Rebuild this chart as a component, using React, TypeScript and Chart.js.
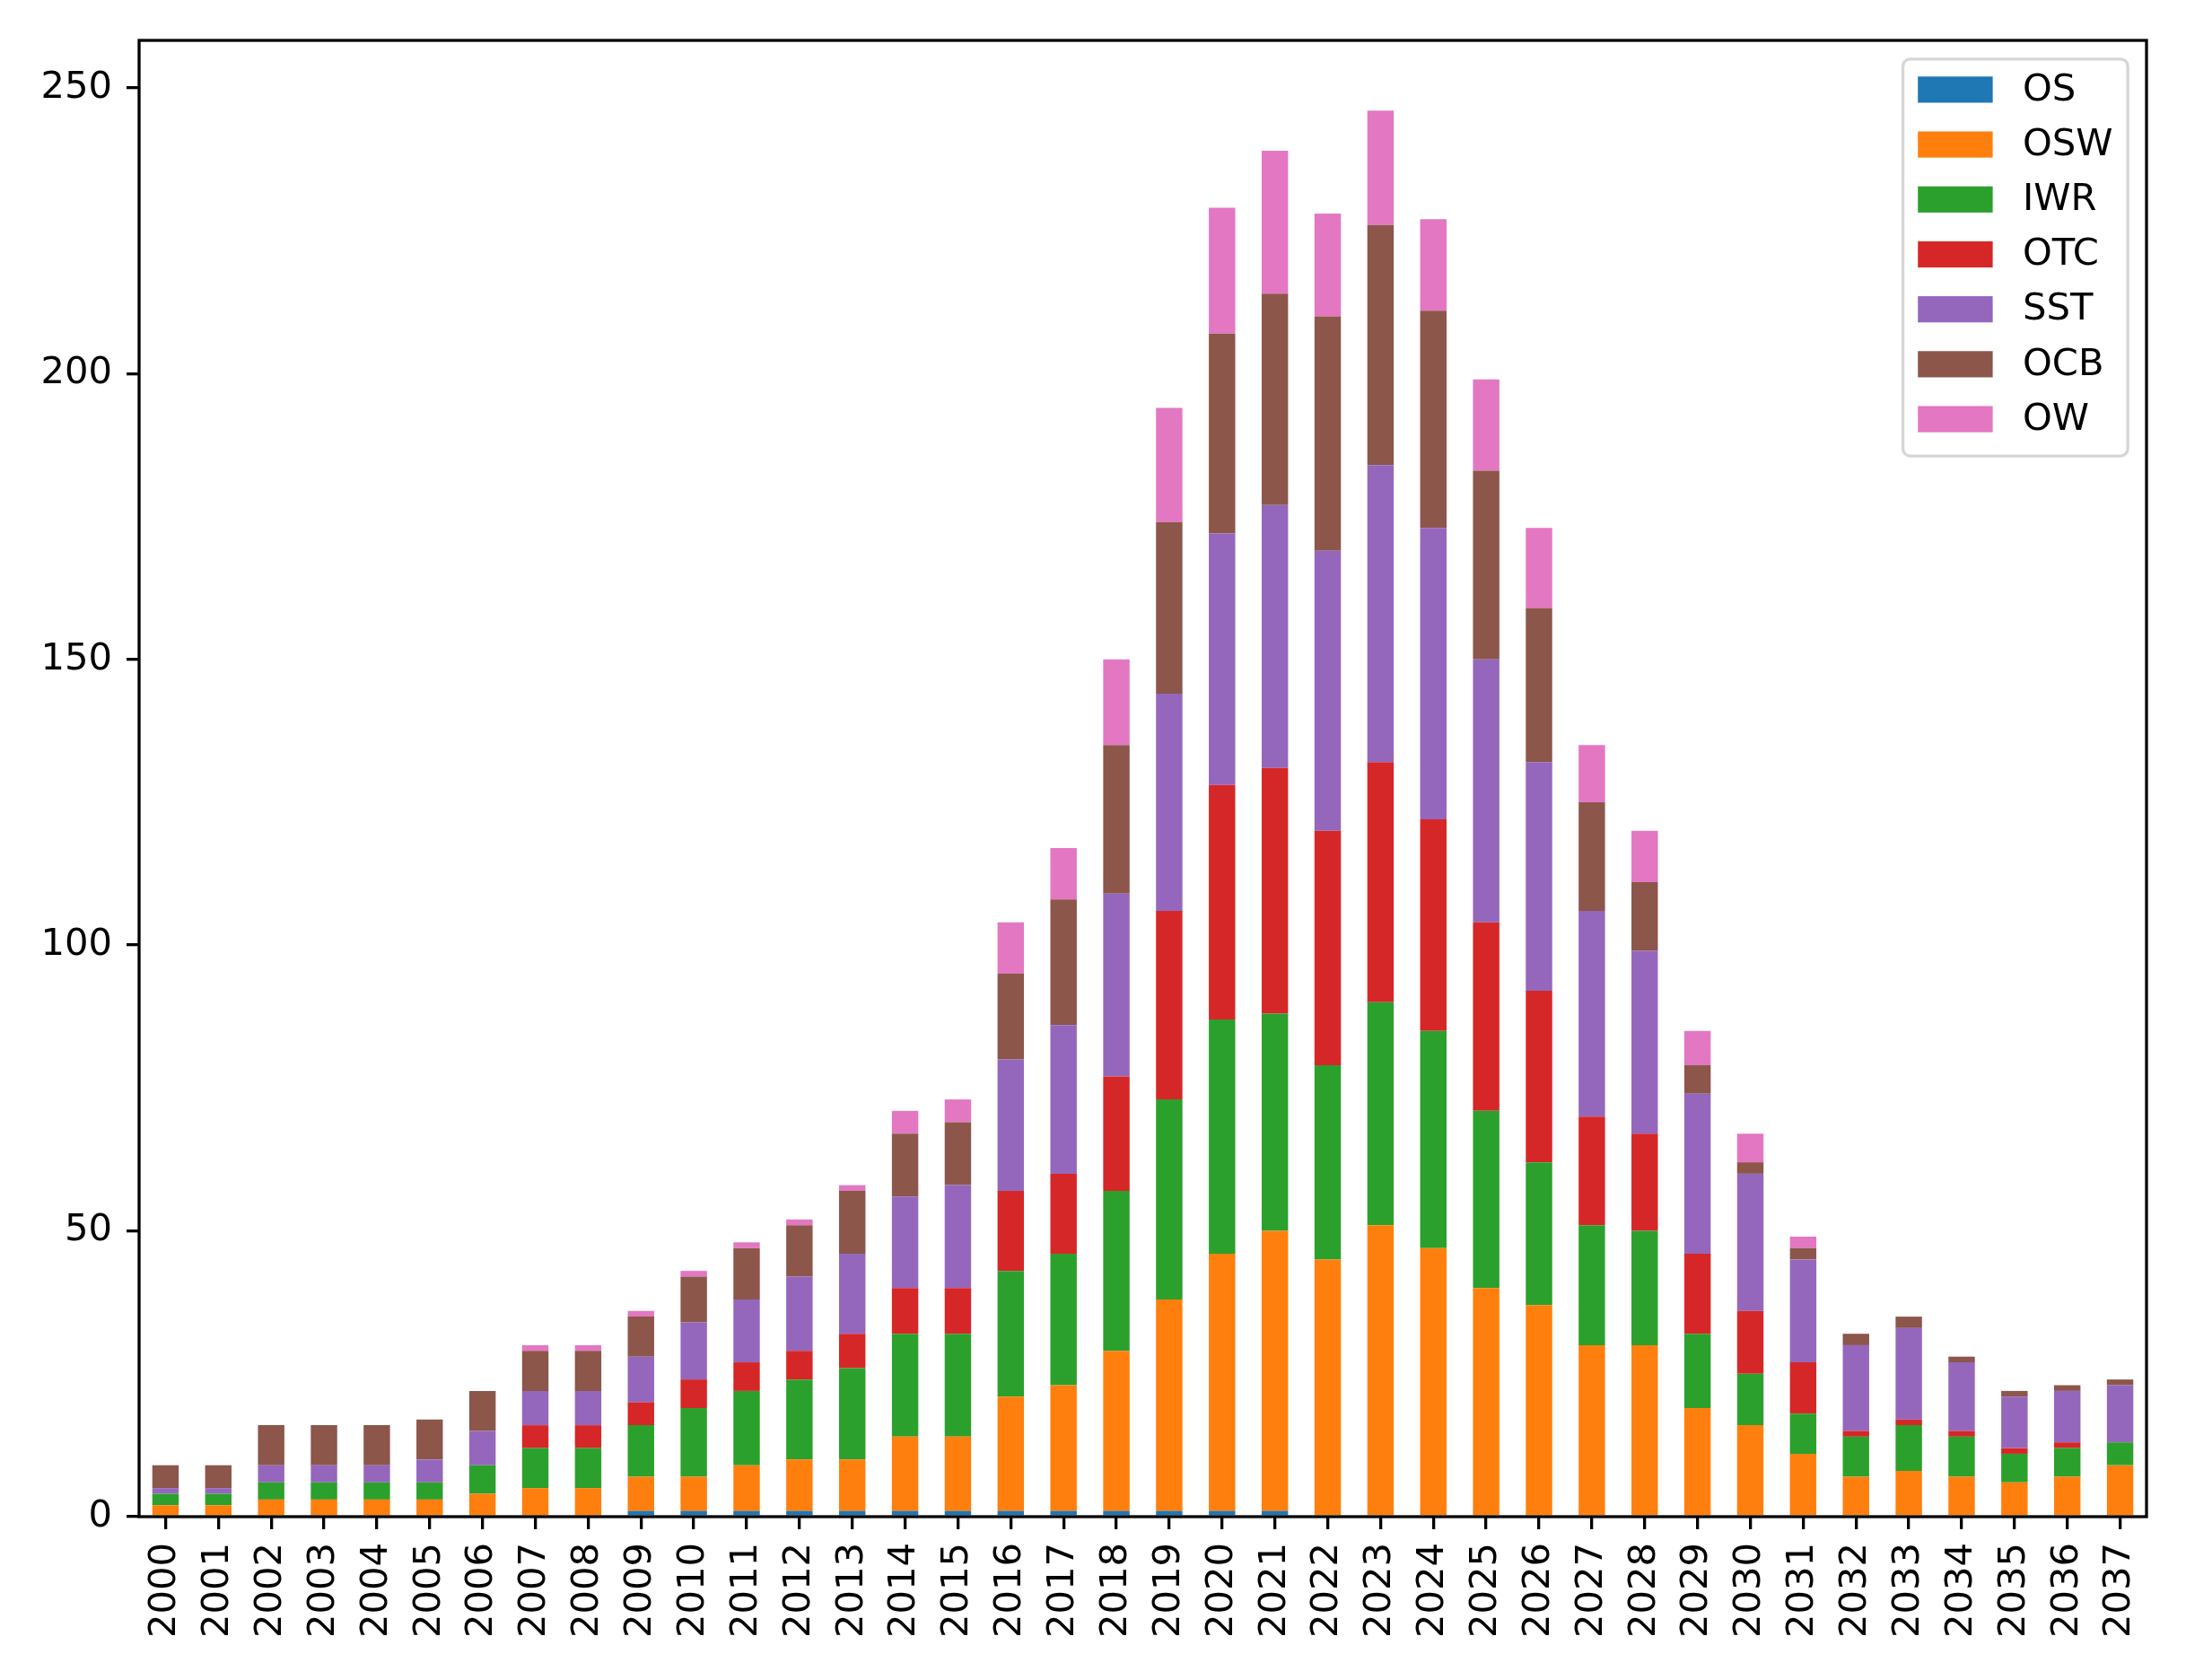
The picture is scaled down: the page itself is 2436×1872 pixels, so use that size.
import { useEffect, useRef } from "react";
import { Chart, registerables } from "chart.js";

Chart.register(...registerables);

const years = [
  "2000", "2001", "2002", "2003", "2004", "2005", "2006", "2007", "2008", "2009",
  "2010", "2011", "2012", "2013", "2014", "2015", "2016", "2017", "2018", "2019",
  "2020", "2021", "2022", "2023", "2024", "2025", "2026", "2027", "2028", "2029",
  "2030", "2031", "2032", "2033", "2034", "2035", "2036", "2037",
];

const seriesNames = ["OS", "OSW", "IWR", "OTC", "SST", "OCB", "OW"];
const seriesColors = ["#1f77b4", "#ff7f0e", "#2ca02c", "#d62728", "#9467bd", "#8c564b", "#e377c2"];

const OS = [0, 0, 0, 0, 0, 0, 0, 0, 0, 1, 1, 1, 1, 1, 1, 1, 1, 1, 1, 1, 1, 1, 0, 0, 0, 0, 0, 0, 0, 0, 0, 0, 0, 0, 0, 0, 0, 0];
const OSW = [2, 2, 3, 3, 3, 3, 4, 5, 5, 6, 6, 8, 9, 9, 13, 13, 20, 22, 28, 37, 45, 49, 45, 51, 47, 40, 37, 30, 30, 19, 16, 11, 7, 8, 7, 6, 7, 9];
const IWR = [2, 2, 3, 3, 3, 3, 5, 7, 7, 9, 12, 13, 14, 16, 18, 18, 22, 23, 28, 35, 41, 38, 34, 39, 38, 31, 25, 21, 20, 13, 9, 7, 7, 8, 7, 5, 5, 4];
const OTC = [0, 0, 0, 0, 0, 0, 0, 4, 4, 4, 5, 5, 5, 6, 8, 8, 14, 14, 20, 33, 41, 43, 41, 42, 37, 33, 30, 19, 17, 14, 11, 9, 1, 1, 1, 1, 1, 0];
const SST = [1, 1, 3, 3, 3, 4, 6, 6, 6, 8, 10, 11, 13, 14, 16, 18, 23, 26, 32, 38, 44, 46, 49, 52, 51, 46, 40, 36, 32, 28, 24, 18, 15, 16, 12, 9, 9, 10];
const OCB = [4, 4, 7, 7, 7, 7, 7, 7, 7, 7, 8, 9, 9, 11, 11, 11, 15, 22, 26, 30, 35, 37, 41, 42, 38, 33, 27, 19, 12, 5, 2, 2, 2, 2, 1, 1, 1, 1];
const OW = [0, 0, 0, 0, 0, 0, 0, 1, 1, 1, 1, 1, 1, 1, 4, 4, 9, 9, 15, 20, 22, 25, 18, 20, 16, 16, 14, 10, 9, 6, 5, 2, 0, 0, 0, 0, 0, 0];

const seriesValues = [OS, OSW, IWR, OTC, SST, OCB, OW];

const yTicks = [0, 50, 100, 150, 200, 250];
const yMax = 258.3;

const FONT = '"DejaVu Sans", "Liberation Sans", sans-serif';
const FS = 41.7;

const mplPlugin = {
  id: "mplFrameLegend",
  afterDatasetsDraw(chart: any) {
    const { ctx, chartArea: a } = chart;
    ctx.save();
    ctx.strokeStyle = "#000";
    ctx.lineWidth = 3.3;
    ctx.lineJoin = "miter";
    ctx.strokeRect(a.left, a.top, a.right - a.left, a.bottom - a.top);
    ctx.restore();
  },
  afterDraw(chart: any) {
    const { ctx, chartArea: a } = chart;
    const ds = chart.data.datasets;
    ctx.save();
    ctx.font = `${FS}px ${FONT}`;
    const textW = Math.max(...ds.map((d: any) => ctx.measureText(d.label).width));
    const pad = 0.4 * FS;
    const handleW = 2.0 * FS;
    const handleH = 0.7 * FS;
    const textPad = 0.8 * FS;
    const axPad = 0.5 * FS;
    const rowH = 61.2;
    const w = pad * 2 + handleW + textPad + textW;
    const h = 34 + (ds.length - 1) * rowH + 41;
    const x0 = a.right - axPad - w;
    const y0 = a.top + axPad;
    ctx.beginPath();
    if ((ctx as any).roundRect) {
      (ctx as any).roundRect(x0, y0, w, h, 8);
    } else {
      ctx.rect(x0, y0, w, h);
    }
    ctx.fillStyle = "rgba(255,255,255,0.8)";
    ctx.fill();
    ctx.lineWidth = 3.3;
    ctx.strokeStyle = "rgba(204,204,204,0.8)";
    ctx.stroke();
    ctx.textBaseline = "middle";
    ctx.textAlign = "left";
    ds.forEach((d: any, i: number) => {
      const cy = y0 + 34 + i * rowH;
      ctx.fillStyle = d.backgroundColor;
      ctx.fillRect(x0 + pad, cy - handleH / 2, handleW, handleH);
      ctx.fillStyle = "#000";
      ctx.fillText(d.label, x0 + pad + handleW + textPad, cy + 1);
    });
    ctx.restore();
  },
};

export default function App() {
  const ref = useRef<HTMLCanvasElement>(null);

  useEffect(() => {
    document.body.style.margin = "0";
    const canvas = ref.current;
    if (!canvas) return;
    const chart = new Chart(canvas, {
      type: "bar",
      data: {
        labels: years,
        datasets: seriesNames.map((name, i) => ({
          label: name,
          data: seriesValues[i],
          backgroundColor: seriesColors[i],
          borderWidth: 0,
          barPercentage: 0.5,
          categoryPercentage: 1.0,
        })),
      },
      options: {
        responsive: false,
        maintainAspectRatio: false,
        animation: false,
        devicePixelRatio: 1,
        layout: { padding: { top: 45, right: 44, left: 0, bottom: 0 } },
        plugins: {
          legend: { display: false },
          tooltip: { enabled: false },
        },
        scales: {
          x: {
            stacked: true,
            offset: true,
            grid: {
              display: true,
              drawOnChartArea: false,
              drawTicks: true,
              offset: false,
              tickLength: 14,
              lineWidth: 3.3,
              color: "#000",
            },
            border: { display: false },
            ticks: {
              autoSkip: false,
              minRotation: 90,
              maxRotation: 90,
              padding: 15,
              color: "#000",
              font: { family: FONT, size: FS },
            },
            afterFit: (scale: any) => {
              scale.height = 182;
            },
          },
          y: {
            stacked: true,
            min: 0,
            max: yMax,
            grid: {
              display: true,
              drawOnChartArea: false,
              drawTicks: true,
              tickLength: 14,
              lineWidth: 3.3,
              color: "#000",
            },
            border: { display: false },
            ticks: {
              includeBounds: false,
              stepSize: 50,
              padding: 16,
              color: "#000",
              font: { family: FONT, size: FS },
            },
            afterBuildTicks: (scale: any) => {
              scale.ticks = yTicks.map((v) => ({ value: v }));
            },
            afterFit: (scale: any) => {
              scale.width = 155;
            },
          },
        },
      },
      plugins: [mplPlugin],
    });
    return () => chart.destroy();
  }, []);

  return (
    <canvas
      ref={ref}
      width={2436}
      height={1872}
      style={{ display: "block", width: "2436px", height: "1872px" }}
    />
  );
}
